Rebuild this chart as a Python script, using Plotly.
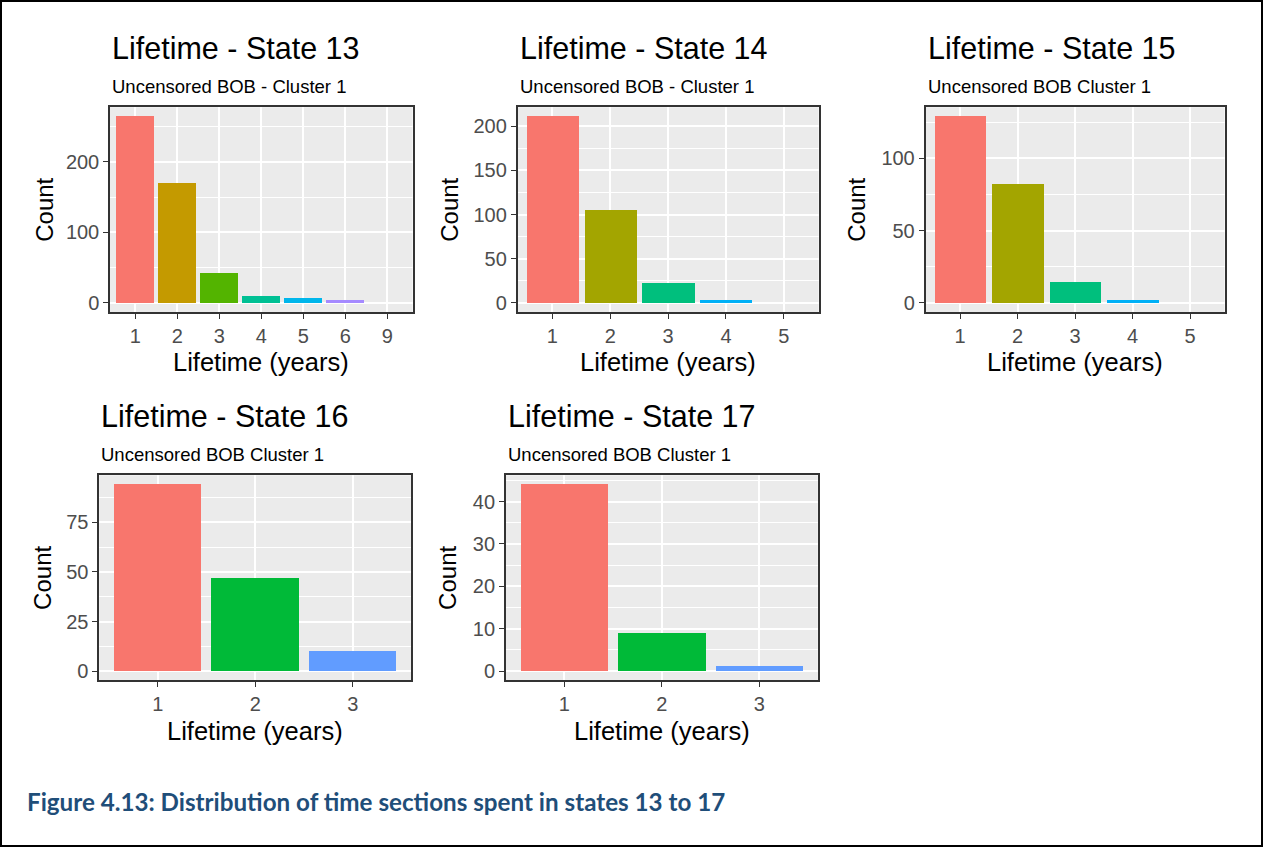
import plotly.graph_objects as go

W, H = 1263, 849

# Lifetime (years) categories and counts per state
state13_years = ["1", "2", "3", "4", "5", "6", "9"]
state13_counts = [264, 170, 42, 10, 6, 4, 0]

state14_years = ["1", "2", "3", "4", "5"]
state14_counts = [211, 105, 22, 3, 0]

state15_years = ["1", "2", "3", "4", "5"]
state15_counts = [129, 82, 14, 2, 0]

state16_years = ["1", "2", "3"]
state16_counts = [94, 47, 10]

state17_years = ["1", "2", "3"]
state17_counts = [44, 9, 1]

titles = ["Lifetime - State 13", "Lifetime - State 14", "Lifetime - State 15",
          "Lifetime - State 16", "Lifetime - State 17"]
subtitles = ["Uncensored BOB - Cluster 1", "Uncensored BOB - Cluster 1",
             "Uncensored BOB Cluster 1", "Uncensored BOB Cluster 1",
             "Uncensored BOB Cluster 1"]
major_steps = [100, 50, 50, 25, 10]
caption = "Figure 4.13: Distribution of time sections spent in states 13 to 17"

# ggplot default hue palettes
hue = {
    7: ["#F8766D", "#C49A00", "#53B400", "#00C094", "#00B6EB", "#A58AFF", "#FB61D7"],
    5: ["#F8766D", "#A3A500", "#00BF7D", "#00B0F6", "#E76BF3"],
    3: ["#F8766D", "#00BA38", "#619CFF"],
}

panels = [
    (state13_years, state13_counts),
    (state14_years, state14_counts),
    (state15_years, state15_counts),
    (state16_years, state16_counts),
    (state17_years, state17_counts),
]

# panel boxes in pixels: left, right, top, bottom
boxes = [
    (110.0, 412.5, 107.5, 313.0),
    (517.6, 818.6, 107.5, 313.0),
    (925.5, 1224.5, 107.5, 313.0),
    (99.2, 411.2, 476.5, 682.0),
    (505.8, 817.8, 476.5, 682.0),
]
title_y = [48, 48, 48, 417, 417]
subtitle_y = [87, 87, 87, 456, 456]
xtitle_y = [363, 363, 363, 733, 733]
ytitle_x = [45, 450, 857, 43, 448]

FONT = "Liberation Sans, Arial, sans-serif"


def px_x(p):
    return p / W


def px_y(p):
    return 1 - p / H


fig = go.Figure()
annotations = []

for i, ((years, counts), (l, r, t, b)) in enumerate(zip(panels, boxes)):
    n = len(years)
    k = "" if i == 0 else str(i + 1)
    fig.add_trace(go.Bar(
        x=years, y=counts, width=0.9,
        marker=dict(color=hue[n], line=dict(width=0)),
        xaxis="x" + k, yaxis="y" + k, showlegend=False,
    ))
    top = max(counts)
    step = major_steps[i]
    axis_common = dict(
        showline=True, mirror=True, linecolor="#333333", linewidth=1.5,
        ticks="outside", ticklen=5, tickcolor="#333333", tickwidth=1,
        tickfont=dict(family=FONT, size=20, color="#4D4D4D"),
        showgrid=True, gridcolor="white", gridwidth=1.5,
        zeroline=False, fixedrange=True,
    )
    fig.update_layout(**{
        "xaxis" + k: dict(
            type="category", categoryorder="array", categoryarray=years,
            range=[-0.6, n - 0.4],
            domain=[px_x(l), px_x(r)], anchor="y" + k,
            **axis_common,
        ),
        "yaxis" + k: dict(
            range=[-0.05 * top, 1.05 * top],
            tickmode="linear", tick0=0, dtick=step,
            minor=dict(tick0=step / 2, dtick=step, showgrid=True,
                       gridcolor="white", gridwidth=0.7, ticks=""),
            domain=[px_y(b), px_y(t)], anchor="x" + k,
            **axis_common,
        ),
    })
    annotations.append(dict(
        text=titles[i], x=px_x(l), y=px_y(title_y[i]), xref="paper", yref="paper",
        xanchor="left", yanchor="middle", showarrow=False,
        font=dict(family=FONT, size=30.5, color="black"),
    ))
    annotations.append(dict(
        text=subtitles[i], x=px_x(l), y=px_y(subtitle_y[i]), xref="paper", yref="paper",
        xanchor="left", yanchor="middle", showarrow=False,
        font=dict(family=FONT, size=18.5, color="black"),
    ))
    annotations.append(dict(
        text="Lifetime (years)", x=px_x((l + r) / 2), y=px_y(xtitle_y[i]),
        xref="paper", yref="paper", xanchor="center", yanchor="middle",
        showarrow=False, font=dict(family=FONT, size=25.5, color="black"),
    ))
    annotations.append(dict(
        text="Count", x=px_x(ytitle_x[i]), y=px_y((t + b) / 2), textangle=-90,
        xref="paper", yref="paper", xanchor="center", yanchor="middle",
        showarrow=False, font=dict(family=FONT, size=24, color="black"),
    ))

annotations.append(dict(
    text="<b>" + caption + "</b>", x=px_x(25), y=px_y(803),
    xref="paper", yref="paper", xanchor="left", yanchor="middle", showarrow=False,
    font=dict(family="Lato, Open Sans, sans-serif", size=24.2, color="#1F4E79"),
))

fig.update_layout(
    width=W, height=H, margin=dict(l=0, r=0, t=0, b=0),
    paper_bgcolor="white", plot_bgcolor="#EBEBEB",
    annotations=annotations, bargap=0,
    shapes=[dict(type="rect", xref="paper", yref="paper",
                 x0=1 / W, x1=1 - 1 / W, y0=1 / H, y1=1 - 1 / H,
                 line=dict(color="black", width=2), fillcolor="rgba(0,0,0,0)")],
)

fig.write_html("out.html", config={"displayModeBar": False})
